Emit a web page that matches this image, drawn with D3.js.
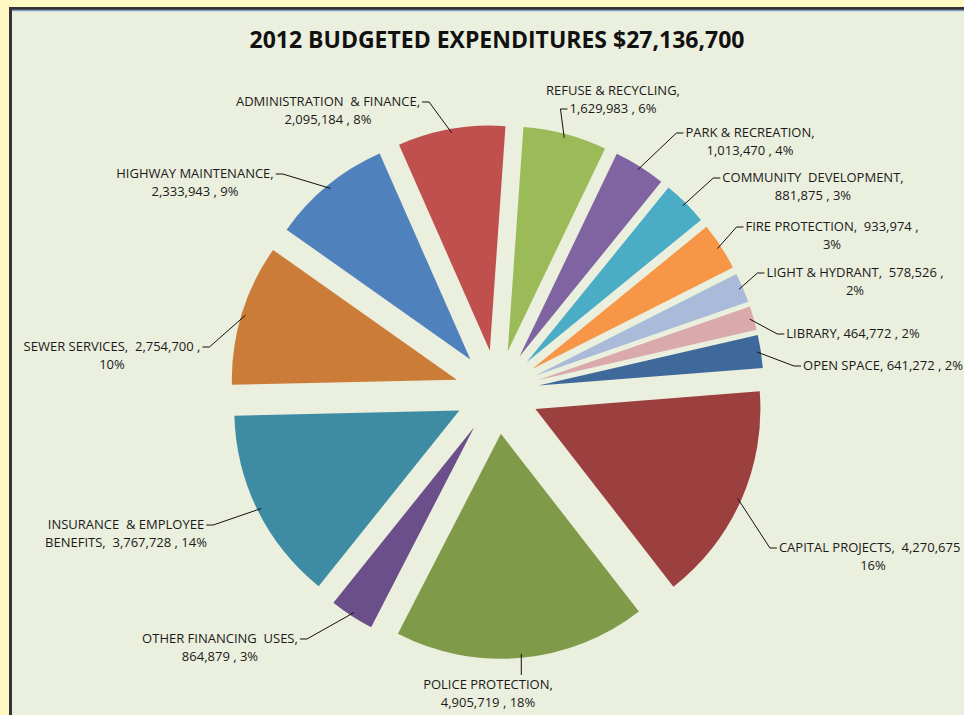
<!DOCTYPE html>
<html>
<head>
<meta charset="utf-8">
<script src="https://cdn.jsdelivr.net/npm/d3@7"></script>
<style>
    body { margin: 0; background: #fef9c2; }
    svg { display: block; }
    text { white-space: pre; }
</style>
</head>
<body>
<svg id="chart" width="964" height="715"></svg>
<script>
// budget lines, clockwise from the top
const categories = [
    "REFUSE & RECYCLING", "PARK & RECREATION", "COMMUNITY  DEVELOPMENT",
    "FIRE PROTECTION", "LIGHT & HYDRANT", "LIBRARY", "OPEN SPACE",
    "CAPITAL PROJECTS", "POLICE PROTECTION", "OTHER FINANCING  USES",
    "INSURANCE  & EMPLOYEE\nBENEFITS", "SEWER SERVICES", "HIGHWAY MAINTENANCE",
    "ADMINISTRATION  & FINANCE"
];
const values = [
    1629983, 1013470, 881875, 933974, 578526, 464772, 641272,
    4270675, 4905719, 864879, 3767728, 2754700, 2333943, 2095184
];
const colors = [
    "#9bbb59", "#8064a2", "#4bacc6", "#f79646", "#aabbd9", "#daa9a9", "#40699b",
    "#9c3f3f", "#7f9b49", "#6a4f8a", "#3d8ca3", "#cb7c39", "#4f81bd", "#c0504d"
];
const title = "2012 BUDGETED EXPENDITURES $27,136,700";

// label layout: x = centre of text, y = first baseline, side = where the leader enters,
// brk = 'n' break after name, 'v' break before percent, '1' single line
const labelLayout = [
    {x: 613, y: 95, side: "left", brk: "n", line: 1},
    {x: 750, y: 137, side: "left", brk: "n"},
    {x: 813, y: 182, side: "left", brk: "n"},
    {x: 832, y: 231, side: "left", brk: "v"},
    {x: 855, y: 277, side: "left", brk: "v"},
    {x: 853, y: 338, side: "left", brk: "1"},
    {x: 883, y: 370, side: "left", brk: "1"},
    {x: 873, y: 552, side: "left", brk: "v"},
    {x: 488, y: 689, side: "top", brk: "n"},
    {x: 220, y: 643, side: "right", brk: "n"},
    {x: 126, y: 529, side: "right", brk: "n"},
    {x: 112, y: 351, side: "right", brk: "v"},
    {x: 195, y: 178, side: "right", brk: "n"},
    {x: 328, y: 106, side: "right", brk: "n"}
];

const cx = 497, cy = 392, radius = 225, explode = 42;
const firstSliceAngle = 4; // degrees
const fontFamily = "'Open Sans', sans-serif";

function labelLines(i, total) {
    const val = d3.format(",")(values[i]);
    const pct = Math.round(values[i] / total * 100) + "%";
    const name = categories[i].split("\n");
    const last = name.pop();
    const brk = labelLayout[i].brk;
    if (brk === "n" && name.length) {
        return name.concat([last + ",  " + val + " , " + pct]);
    }
    if (brk === "n") return [last + ",", val + " , " + pct];
    if (brk === "v") return [last + ",  " + val + " ,", pct];
    return [last + ", " + val + " , " + pct];
}

function drawChart() {
    const svg = d3.select("#chart");
    const total = d3.sum(values);

    svg.append("rect")
        .attr("x", 10.5).attr("y", 8.5)
        .attr("width", 1000).attr("height", 1000)
        .attr("fill", "#ebefde")
        .attr("stroke", "#333")
        .attr("stroke-width", 3);
    svg.append("line")
        .attr("x1", 12).attr("x2", 964)
        .attr("y1", 10.5).attr("y2", 10.5)
        .attr("stroke", "#7f9fcf")
        .attr("stroke-width", 1.5);

    svg.append("text")
        .attr("x", 497).attr("y", 48)
        .attr("text-anchor", "middle")
        .attr("font-family", fontFamily)
        .attr("font-weight", "bold")
        .attr("font-size", 23)
        .attr("fill", "#111")
        .text(title);

    const start = firstSliceAngle * Math.PI / 180;
    const pie = d3.pie().sort(null)
        .startAngle(start)
        .endAngle(start + 2 * Math.PI)
        .value(function (d) { return d; });
    const arcs = pie(values);
    const arc = d3.arc().innerRadius(0).outerRadius(radius);

    const g = svg.append("g").attr("transform", "translate(" + cx + "," + cy + ")");

    function dir(d) {
        const a = (d.startAngle + d.endAngle) / 2;
        return [Math.sin(a), -Math.cos(a)];
    }

    g.selectAll("path.slice")
        .data(arcs)
        .enter().append("path")
        .attr("class", "slice")
        .attr("transform", function (d) {
            const v = dir(d);
            return "translate(" + v[0] * explode + "," + v[1] * explode + ")";
        })
        .attr("d", arc)
        .attr("fill", function (d, i) { return colors[i]; });

    const labels = svg.append("g")
        .attr("font-family", fontFamily)
        .attr("font-size", 13)
        .attr("fill", "#1a1a1a");

    arcs.forEach(function (d, i) {
        const lay = labelLayout[i];
        const lines = labelLines(i, total);
        const t = labels.append("text")
            .attr("text-anchor", "middle");
        lines.forEach(function (s, k) {
            t.append("tspan")
                .attr("x", lay.x)
                .attr("y", lay.y + k * 18)
                .text(s);
        });
        const li = lay.line || 0;
        const w = t.selectAll("tspan").nodes()[li].getComputedTextLength();
        const ly = lay.y + li * 18;

        // leader from the outer edge of the exploded slice to the label
        const v = dir(d);
        const r0 = explode + radius - 4;
        const p0 = [cx + v[0] * r0, cy + v[1] * r0];
        let p1, p2;
        if (lay.side === "left") {
            p2 = [lay.x - w / 2 - 2, ly - 4];
            p1 = [p2[0] - 7, p2[1]];
        } else if (lay.side === "right") {
            p2 = [lay.x + w / 2 + 2, ly - 4];
            p1 = [p2[0] + 7, p2[1]];
        } else {
            p2 = [p0[0], ly - 14];
            p1 = p2;
        }
        labels.append("path")
            .attr("d", d3.line()([p0, p1, p2]))
            .attr("fill", "none")
            .attr("stroke", "#111")
            .attr("stroke-width", 1);
    });
}

drawChart();
</script>
</body>
</html>
